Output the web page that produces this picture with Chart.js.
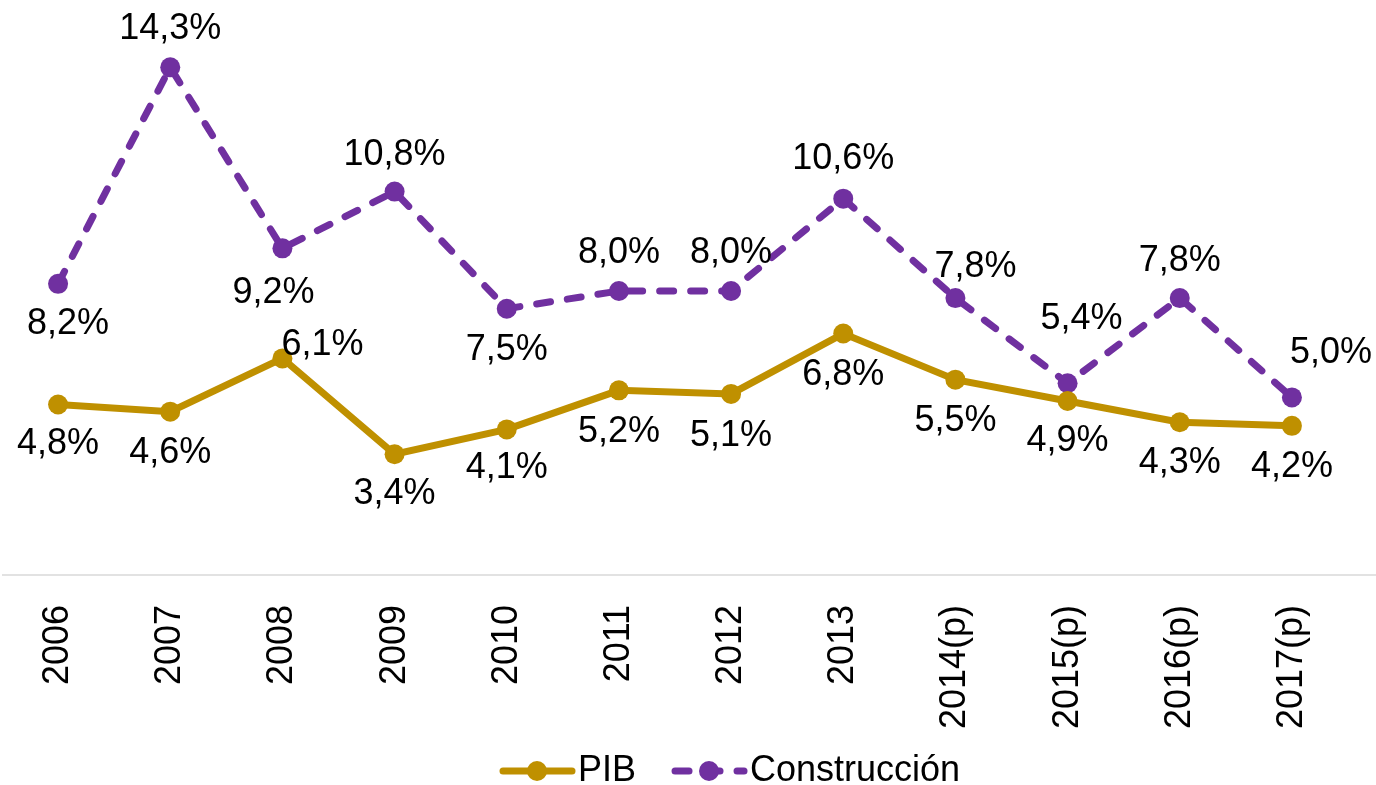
<!DOCTYPE html>
<html>
<head>
<meta charset="utf-8">
<script src="https://cdn.jsdelivr.net/npm/chart.js@4.4.1/dist/chart.umd.min.js"></script>
<style>
    html, body { margin: 0; padding: 0; background: #fff; }
    #wrap { width: 1376px; height: 785px; }
</style>
</head>
<body>
<div id="wrap"><canvas id="chart"></canvas></div>
<script>
const years = ["2006", "2007", "2008", "2009", "2010", "2011", "2012", "2013", "2014(p)", "2015(p)", "2016(p)", "2017(p)"];
const pib = [4.8, 4.6, 6.1, 3.4, 4.1, 5.2, 5.1, 6.8, 5.5, 4.9, 4.3, 4.2];
const construccion = [8.2, 14.3, 9.2, 10.8, 7.5, 8.0, 8.0, 10.6, 7.8, 5.4, 7.8, 5.0];

const GOLD = "#BF9000";
const PURPLE = "#7030A0";
const FONT = "Liberation Sans, Arial, sans-serif";

// label offsets (px) from each point, per series
const pibLabelPos = [[0, 40], [0, 41], [40, -13], [0, 40], [0, 39], [0, 42], [0, 42], [0, 42], [0, 41], [0, 40], [0, 41], [0, 41]];
const conLabelPos = [[10, 40], [0, -38], [-9, 45], [0, -36], [0, 41], [0, -38], [0, -38], [0, -40], [20, -31], [14, -64], [0, -37], [39, -44]];

function fmt(v) {
    return v.toFixed(1).replace(".", ",") + "%";
}

const labelPlugin = {
    id: "pointLabels",
    afterDatasetsDraw(chart) {
        const ctx = chart.ctx;
        ctx.save();
        ctx.font = "36px " + FONT;
        ctx.fillStyle = "#000";
        ctx.textAlign = "center";
        ctx.textBaseline = "middle";
        chart.data.datasets.forEach((ds, i) => {
            const meta = chart.getDatasetMeta(i);
            const offs = i === 0 ? pibLabelPos : conLabelPos;
            meta.data.forEach((pt, j) => {
                ctx.fillText(fmt(ds.data[j]), pt.x + offs[j][0], pt.y + offs[j][1]);
            });
        });
        ctx.restore();
    }
};

const axisLinePlugin = {
    id: "axisLine",
    beforeDatasetsDraw(chart) {
        const ctx = chart.ctx;
        const y = chart.chartArea.bottom;
        ctx.save();
        ctx.strokeStyle = "#d9d9d9";
        ctx.lineWidth = 1.5;
        ctx.beginPath();
        ctx.moveTo(chart.chartArea.left, y);
        ctx.lineTo(chart.width, y);
        ctx.stroke();
        ctx.restore();
    }
};

const legendPlugin = {
    id: "bottomLegend",
    afterDraw(chart) {
        const ctx = chart.ctx;
        const y = 771;
        ctx.save();
        ctx.font = "36px " + FONT;
        ctx.textBaseline = "middle";
        ctx.fillStyle = "#000";
        let x = 500;
        chart.data.datasets.forEach((ds) => {
            ctx.strokeStyle = ds.borderColor;
            ctx.lineWidth = 7;
            ctx.lineCap = "round";
            ctx.setLineDash(ds.borderDash || []);
            ctx.beginPath();
            ctx.moveTo(x + 3, y);
            ctx.lineTo(x + 72, y);
            ctx.stroke();
            ctx.setLineDash([]);
            ctx.fillStyle = ds.borderColor;
            ctx.beginPath();
            ctx.arc(x + 37, y, 10, 0, Math.PI * 2);
            ctx.fill();
            ctx.fillStyle = "#000";
            ctx.fillText(ds.label, x + 78, y);
            x += 78 + ctx.measureText(ds.label).width + 36;
        });
        ctx.restore();
    }
};

new Chart(document.getElementById("chart"), {
    type: "line",
    data: {
        labels: years,
        datasets: [
            {
                label: "PIB",
                data: pib,
                borderColor: GOLD,
                backgroundColor: GOLD,
                borderWidth: 7,
                pointRadius: 10,
                pointBorderWidth: 0,
                pointBackgroundColor: GOLD,
                tension: 0,
            },
            {
                label: "Construcción",
                data: construccion,
                borderColor: PURPLE,
                backgroundColor: PURPLE,
                borderWidth: 7,
                borderDash: [14, 17],
                borderCapStyle: "round",
                pointRadius: 10,
                pointBorderWidth: 0,
                pointBackgroundColor: PURPLE,
                tension: 0,
            },
        ],
    },
    options: {
        responsive: true,
        maintainAspectRatio: false,
        animation: false,
        layout: {
            autoPadding: false,
            padding: { left: 2, right: 28, top: 7, bottom: 34 },
        },
        scales: {
            x: {
                offset: true,
                grid: { display: false, offset: true },
                border: { display: false },
                ticks: {
                    color: "#000",
                    font: { size: 36, family: FONT },
                    minRotation: 90,
                    maxRotation: 90,
                    padding: 22,
                    autoSkip: false,
                },
                afterFit(scale) {
                    scale.paddingLeft = 0;
                    scale.paddingRight = 0;
                },
            },
            y: {
                display: false,
                min: 0,
                max: 16,
            },
        },
        plugins: {
            legend: { display: false },
            tooltip: { enabled: false },
        },
    },
    plugins: [labelPlugin, axisLinePlugin, legendPlugin],
});
</script>
</body>
</html>
